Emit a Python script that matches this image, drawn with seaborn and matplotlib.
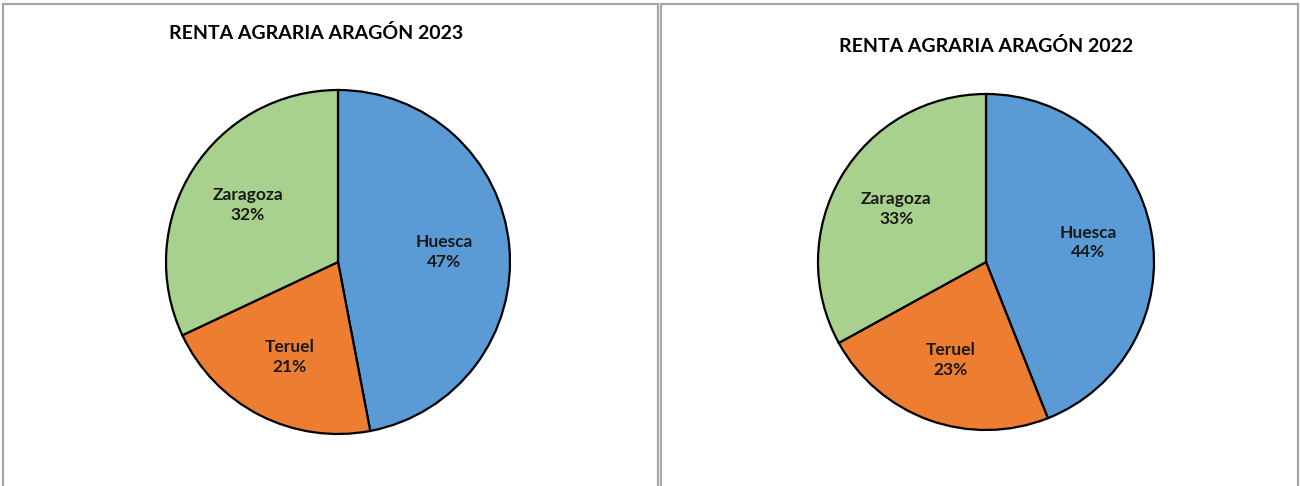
import matplotlib
matplotlib.use("Agg")
import matplotlib.pyplot as plt
from matplotlib.patches import Rectangle
import numpy as np
import seaborn as sns

# Agricultural income share by province
provinces = ["Huesca", "Teruel", "Zaragoza"]
share_2023 = [47, 21, 32]
share_2022 = [44, 23, 33]
titles = ["RENTA AGRARIA ARAGÓN 2023", "RENTA AGRARIA ARAGÓN 2022"]
colors = ["#5B9BD5", "#ED7D31", "#A9D18E"]

sns.set_theme(style="white")
plt.rcParams["font.family"] = ["Lato", "DejaVu Sans"]

W, H = 1300, 486
fig = plt.figure(figsize=(W / 100, H / 100), dpi=100)
fig.patch.set_facecolor("white")


def px_rect(x0, y0, x1, y1):
    """Pixel box (top-left origin) -> figure-fraction rect."""
    return [x0 / W, 1 - y1 / H, (x1 - x0) / W, (y1 - y0) / H]


# panel frames
for x0, x1 in [(3, 658), (661, 1298)]:
    fig.patches.append(Rectangle((x0 / W, -0.05), (x1 - x0) / W, 1 - 4 / H + 0.05,
                                 transform=fig.transFigure, fill=False,
                                 edgecolor="#A6A6A6", linewidth=1.6))


def draw_pie(values, title, cx, cy, r, tx, ty):
    ax = fig.add_axes(px_rect(cx - r, cy - r, cx + r, cy + r))
    wedges = ax.pie(values, colors=colors, startangle=90, counterclock=False,
                    wedgeprops=dict(edgecolor="black", linewidth=1.6))[0]
    for w in wedges:
        w.set_clip_on(False)
    # data labels inside each slice
    theta = 90.0
    total = sum(values)
    for v, name in zip(values, provinces):
        span = 360.0 * v / total
        mid = np.deg2rad(theta - span / 2)
        theta -= span
        ax.text(0.62 * np.cos(mid), 0.62 * np.sin(mid), f"{name}\n{v}%",
                ha="center", va="center", fontsize=12.5, fontweight="bold",
                color="#1A1A1A", linespacing=1.3)
    ax.set_xlim(-1, 1)
    ax.set_ylim(-1, 1)
    ax.set_aspect("equal")
    ax.axis("off")
    fig.text(tx / W, 1 - ty / H, title, ha="center", va="center",
             fontsize=14, fontweight="bold", color="black")


draw_pie(share_2023, titles[0], 338, 262, 172, 316, 33)
draw_pie(share_2022, titles[1], 986, 262, 168, 986, 46)

fig.savefig("out.png", dpi=100, facecolor="white")
